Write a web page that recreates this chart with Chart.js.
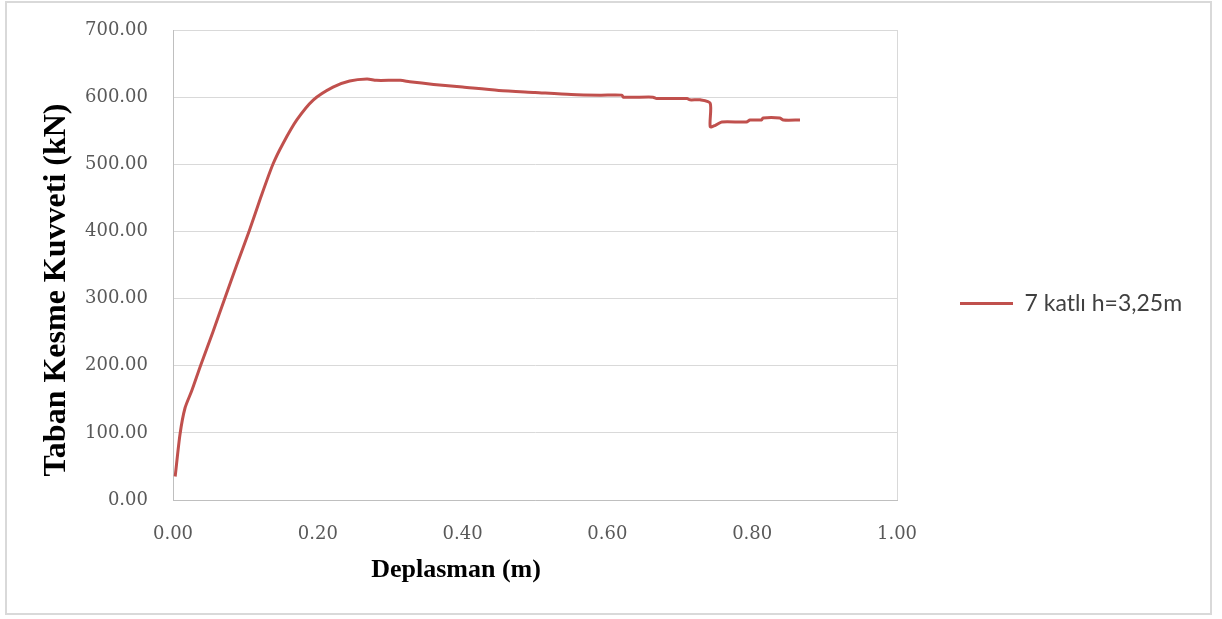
<!DOCTYPE html>
<html>
<head>
<meta charset="utf-8">
<script src="https://cdn.jsdelivr.net/npm/chart.js@4"></script>
<style>
  html, body { margin: 0; padding: 0; background: #fff; }
  #wrap { width: 1222px; height: 619px; }
</style>
</head>
<body>
<div id="wrap"><canvas id="pushover"></canvas></div>
<script>
"use strict";

// Deplasman (m)
const dispX = [
  0.003, 0.0097, 0.0166, 0.026, 0.038, 0.055, 0.0715, 0.088, 0.105, 0.121,
  0.138, 0.152, 0.171, 0.194, 0.221, 0.244, 0.268, 0.281, 0.314, 0.327,
  0.36, 0.40, 0.45, 0.50, 0.55, 0.59, 0.62, 0.622, 0.663, 0.668,
  0.71, 0.714, 0.728, 0.742, 0.742, 0.749, 0.758, 0.792, 0.797, 0.813,
  0.815, 0.838, 0.843, 0.866,
];
// Taban Kesme Kuvveti (kN)
const baseShear = [
  35, 98, 137, 163, 200, 250, 300, 350, 400, 450,
  500, 531, 566, 596, 615, 624, 627, 625, 625, 623,
  619, 615, 610, 607, 604, 603, 603, 600, 600, 598,
  598, 596, 596, 591, 556, 558, 563, 563, 566, 566,
  569, 569, 566, 566,
];
const seriesName = "7 katlı h=3,25m";
const xTitle = "Deplasman (m)";
const yTitle = "Taban Kesme Kuvveti (kN)";

const points = dispX.map((x, i) => ({ x: x, y: baseShear[i] }));

const tickFont = { family: "DejaVu Serif", size: 18 };
const padBottom = 42;

// frame + axis titles (titles are offset from plot centre like the original)
const framePlugin = {
  id: "frame",
  beforeDraw(chart) {
    const c = chart.ctx;
    c.save();
    c.fillStyle = "#fff";
    c.fillRect(0, 0, chart.width, chart.height);
    c.strokeStyle = "#d9d9d9";
    c.lineWidth = 2;
    c.strokeRect(6, 2, 1205, 612);
    c.restore();
  },
  afterDraw(chart) {
    const c = chart.ctx;
    c.save();
    c.fillStyle = "#000";
    c.textAlign = "center";
    c.textBaseline = "middle";
    c.font = 'bold 26px "Liberation Serif"';
    c.fillText(xTitle, 456, 570);
    c.translate(57, 290);
    c.rotate(-Math.PI / 2);
    c.font = 'bold 32px "Liberation Serif"';
    c.fillText(yTitle, 0, 0);
    c.restore();
  },
};

// fix legend width so the plot ends at the same place as the original
const legendWidthPlugin = {
  id: "legendWidth",
  beforeLayout(chart) {
    const lg = chart.legend;
    if (lg && !lg._patched) {
      const fit = lg.fit;
      lg.fit = function () {
        fit.call(this);
        this.width = 1222 - 897 - 10;
      };
      lg._patched = true;
    }
  },
};

const myChart = new Chart(document.getElementById("pushover"), {
  type: "scatter",
  data: {
    datasets: [
      {
        label: seriesName,
        data: points,
        showLine: true,
        borderColor: "#c0504d",
        backgroundColor: "#c0504d",
        borderWidth: 3,
        pointRadius: 0,
        tension: 0.25,
      },
    ],
  },
  options: {
    responsive: true,
    maintainAspectRatio: false,
    animation: false,
    layout: { padding: { left: 10, top: 30, right: 10, bottom: padBottom } },
    plugins: {
      tooltip: { enabled: false },
      legend: {
        position: "right",
        labels: {
          usePointStyle: true,
          pointStyle: "line",
          pointStyleWidth: 53,
          padding: 63,
          color: "#404040",
          font: { family: "Lato", size: 23 },
        },
      },
    },
    scales: {
      x: {
        type: "linear",
        min: 0,
        max: 1,
        afterFit(scale) {
          scale.height = 619 - 500 - padBottom;
        },
        ticks: {
          stepSize: 0.2,
          padding: 24,
          color: "#595959",
          font: tickFont,
          callback: (v) => v.toFixed(2),
        },
        grid: {
          drawTicks: false,
          color: (ctx) => (ctx.tick && ctx.tick.value === 1 ? "#d9d9d9" : "transparent"),
        },
        border: { color: "#bfbfbf", width: 1 },
      },
      y: {
        min: 0,
        max: 700,
        afterFit(scale) {
          scale.width = 173 - 10;
        },
        ticks: {
          stepSize: 100,
          padding: 5,
          color: "#595959",
          font: tickFont,
          callback: (v) => v.toFixed(2),
        },
        grid: { color: "#d9d9d9", tickLength: 20, tickColor: "transparent" },
        border: { color: "#bfbfbf", width: 1 },
      },
    },
  },
  plugins: [framePlugin, legendWidthPlugin],
});
</script>
</body>
</html>
